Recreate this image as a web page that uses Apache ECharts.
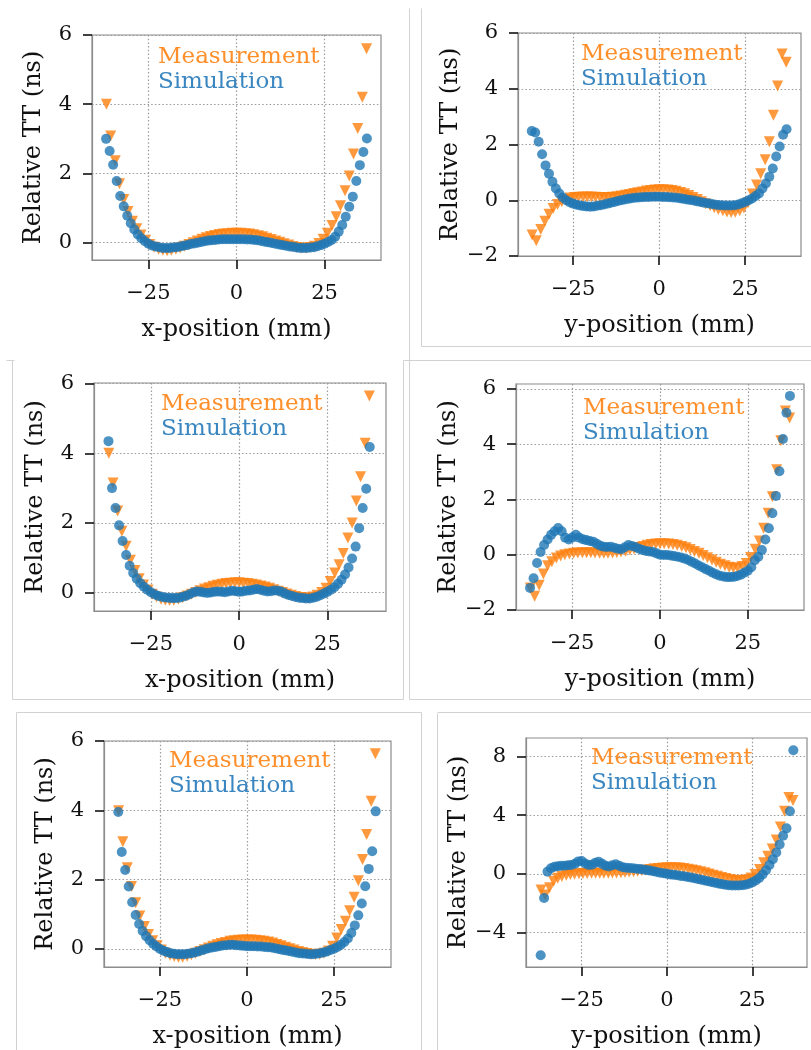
<!DOCTYPE html>
<html>
<head>
<meta charset="utf-8">
<script src="https://cdn.jsdelivr.net/npm/echarts@6/dist/echarts.min.js"></script>
<style>html,body{margin:0;padding:0;background:#fff}#c{width:811px;height:1050px}</style>
</head>
<body>
<div id="c"></div>
<script>
// ---- positions (mm) ----
const POS_MEAS = [-36.9,-35.7,-34.4,-33.2,-32.0,-30.8,-29.5,-28.3,-27.1,-25.8,-24.6,-23.4,-22.1,-20.9,-19.7,-18.5,-17.2,-16.0,-14.8,-13.5,-12.3,-11.1,-9.8,-8.6,-7.4,-6.2,-4.9,-3.7,-2.5,-1.2,0,1.2,2.5,3.7,4.9,6.2,7.4,8.6,9.8,11.1,12.3,13.5,14.8,16.0,17.2,18.5,19.7,20.9,22.1,23.4,24.6,25.8,27.1,28.3,29.5,30.8,32.0,33.2,34.4,35.7,36.9];
const POS_SIM = [-37,-36,-35,-34,-33,-32,-31,-30,-29,-28,-27,-26,-25,-24,-23,-22,-21,-20,-19,-18,-17,-16,-15,-14,-13,-12,-11,-10,-9,-8,-7,-6,-5,-4,-3,-2,-1,0,1,2,3,4,5,6,7,8,9,10,11,12,13,14,15,16,17,18,19,20,21,22,23,24,25,26,27,28,29,30,31,32,33,34,35,36,37];

// ---- Relative TT (ns) ----
const MEAS_1 = [4.0,3.08,2.37,1.7,1.25,0.9,0.62,0.4,0.22,0.07,-0.05,-0.13,-0.19,-0.22,-0.23,-0.22,-0.19,-0.15,-0.1,-0.05,0.0,0.05,0.1,0.14,0.18,0.21,0.24,0.25,0.26,0.27,
  0.27,
  0.27,0.26,0.25,0.23,0.2,0.17,0.13,0.09,0.05,0.01,-0.03,-0.07,-0.11,-0.14,-0.16,-0.16,-0.14,-0.1,-0.02,0.1,0.27,0.5,0.75,1.07,1.5,1.93,2.56,3.3,4.2,5.6];
const SIM_1 = [3.0,2.65,2.25,1.78,1.35,1.05,0.78,0.56,0.38,0.24,0.13,0.04,-0.03,-0.08,-0.11,-0.13,-0.15,-0.15,-0.15,-0.14,-0.13,-0.11,-0.09,-0.07,-0.04,-0.02,0.0,0.02,0.04,0.06,0.07,0.08,0.09,0.1,0.1,0.1,0.1,
  0.1,
  0.1,0.1,0.09,0.09,0.08,0.07,0.05,0.03,0.01,-0.01,-0.03,-0.05,-0.07,-0.09,-0.11,-0.12,-0.14,-0.15,-0.15,-0.15,-0.14,-0.13,-0.1,-0.07,-0.03,0.02,0.08,0.17,0.32,0.51,0.75,1.04,1.33,1.78,2.24,2.62,3.01];

const MEAS_2 = [-1.25,-1.45,-1.05,-0.75,-0.5,-0.3,-0.15,-0.05,0.03,0.08,0.1,0.11,0.12,0.12,0.12,0.11,0.1,0.1,0.1,0.11,0.13,0.15,0.18,0.21,0.24,0.27,0.3,0.33,0.35,0.37,
  0.38,
  0.38,0.37,0.35,0.32,0.28,0.23,0.17,0.1,0.03,-0.05,-0.13,-0.2,-0.27,-0.33,-0.38,-0.42,-0.44,-0.43,-0.38,-0.28,-0.1,0.22,0.55,0.95,1.45,2.1,3.05,4.1,5.25,4.95];
const SIM_2 = [2.48,2.43,2.1,1.65,1.25,0.95,0.66,0.42,0.24,0.1,0.0,-0.07,-0.12,-0.16,-0.19,-0.21,-0.22,-0.23,-0.22,-0.2,-0.18,-0.15,-0.12,-0.09,-0.06,-0.03,0.0,0.03,0.05,0.07,0.09,0.1,0.11,0.12,0.12,0.13,0.13,
  0.13,
  0.12,0.12,0.11,0.1,0.09,0.07,0.05,0.03,0.01,-0.01,-0.04,-0.06,-0.09,-0.11,-0.13,-0.15,-0.17,-0.18,-0.19,-0.19,-0.19,-0.18,-0.15,-0.11,-0.06,0.0,0.06,0.15,0.24,0.42,0.6,0.84,1.14,1.57,1.93,2.35,2.55];

const MEAS_3 = [4.0,3.15,2.34,1.76,1.33,0.93,0.63,0.4,0.22,0.07,-0.05,-0.13,-0.19,-0.22,-0.23,-0.22,-0.19,-0.15,-0.1,-0.05,0.0,0.05,0.1,0.14,0.18,0.21,0.24,0.26,0.27,0.28,
  0.28,
  0.27,0.26,0.24,0.22,0.19,0.16,0.12,0.08,0.04,0.0,-0.04,-0.08,-0.11,-0.14,-0.16,-0.16,-0.13,-0.08,0.0,0.12,0.32,0.56,0.8,1.12,1.57,2.0,2.63,3.33,4.29,5.65];
const SIM_3 = [4.35,3.0,2.43,1.93,1.48,1.08,0.77,0.56,0.4,0.27,0.17,0.08,0.01,-0.05,-0.09,-0.12,-0.14,-0.15,-0.16,-0.16,-0.15,-0.12,-0.09,-0.05,0.0,0.03,0.02,0.0,-0.01,0.0,0.02,0.03,0.02,0.01,0.03,0.05,0.04,
  0.02,
  0.03,0.05,0.06,0.08,0.1,0.08,0.05,0.03,0.04,0.06,0.05,0.02,-0.03,-0.07,-0.1,-0.13,-0.15,-0.16,-0.17,-0.17,-0.15,-0.12,-0.08,-0.03,0.02,0.08,0.15,0.25,0.37,0.52,0.72,0.98,1.32,1.85,2.43,2.98,4.18];

const MEAS_4 = [-1.2,-1.5,-1.1,-0.7,-0.4,-0.25,-0.12,-0.05,0.0,0.03,0.05,0.06,0.07,0.07,0.07,0.06,0.05,0.05,0.05,0.06,0.08,0.1,0.13,0.17,0.21,0.26,0.3,0.34,0.37,0.39,
  0.4,
  0.4,0.39,0.37,0.34,0.3,0.25,0.19,0.12,0.05,-0.03,-0.11,-0.19,-0.27,-0.34,-0.4,-0.45,-0.48,-0.48,-0.43,-0.32,-0.1,0.2,0.5,0.96,1.5,2.1,3.08,4.13,5.2,4.95];
const SIM_4 = [-1.2,-0.85,-0.3,0.1,0.35,0.55,0.72,0.85,0.97,0.85,0.62,0.55,0.62,0.72,0.62,0.56,0.53,0.5,0.47,0.4,0.33,0.29,0.28,0.29,0.25,0.22,0.2,0.27,0.35,0.32,0.28,0.22,0.17,0.14,0.12,0.1,0.05,
  0.0,
  -0.01,-0.01,-0.03,-0.05,-0.07,-0.1,-0.14,-0.19,-0.25,-0.32,-0.39,-0.45,-0.52,-0.58,-0.65,-0.71,-0.76,-0.79,-0.81,-0.81,-0.8,-0.77,-0.72,-0.65,-0.58,-0.45,-0.2,-0.07,0.17,0.55,0.96,1.5,2.13,3.02,4.19,5.14,5.75];

const MEAS_5 = [3.99,3.09,2.34,1.8,1.33,0.95,0.65,0.42,0.24,0.09,-0.03,-0.12,-0.18,-0.22,-0.24,-0.24,-0.21,-0.17,-0.12,-0.07,-0.02,0.03,0.08,0.12,0.16,0.19,0.22,0.24,0.25,0.26,
  0.26,
  0.26,0.25,0.24,0.22,0.2,0.17,0.13,0.09,0.05,0.01,-0.03,-0.07,-0.1,-0.13,-0.15,-0.16,-0.15,-0.12,-0.06,0.08,0.32,0.56,0.8,1.1,1.49,1.97,2.58,3.3,4.26,5.63];
const SIM_5 = [3.95,2.8,2.28,1.8,1.35,0.98,0.72,0.52,0.37,0.25,0.15,0.07,0.0,-0.05,-0.09,-0.12,-0.14,-0.15,-0.15,-0.15,-0.14,-0.12,-0.1,-0.07,-0.04,-0.01,0.02,0.04,0.06,0.08,0.1,0.11,0.12,0.12,0.11,0.1,0.09,
  0.08,
  0.08,0.08,0.07,0.07,0.06,0.05,0.04,0.02,0.0,-0.02,-0.04,-0.06,-0.08,-0.1,-0.12,-0.13,-0.14,-0.15,-0.15,-0.14,-0.12,-0.1,-0.07,-0.03,0.01,0.06,0.12,0.2,0.3,0.46,0.68,0.97,1.31,1.81,2.31,2.82,3.97];

const MEAS_6 = [-1.1,-1.45,-0.95,-0.5,-0.3,-0.18,-0.1,-0.05,-0.02,0.0,0.02,0.03,0.04,0.04,0.04,0.04,0.04,0.05,0.06,0.08,0.1,0.12,0.15,0.18,0.22,0.26,0.3,0.34,0.37,0.39,
  0.41,
  0.42,0.41,0.39,0.36,0.32,0.27,0.21,0.14,0.07,-0.01,-0.09,-0.17,-0.25,-0.32,-0.38,-0.43,-0.46,-0.46,-0.4,-0.28,-0.05,0.3,0.75,1.2,1.7,2.3,3.2,4.27,5.2,5.0];
const SIM_6 = [-5.55,-1.65,0.15,0.38,0.48,0.52,0.55,0.55,0.58,0.6,0.68,0.85,0.88,0.7,0.6,0.62,0.75,0.82,0.68,0.55,0.5,0.58,0.65,0.55,0.45,0.42,0.4,0.38,0.35,0.33,0.3,0.27,0.22,0.18,0.13,0.08,0.04,
  0.0,
  -0.04,-0.07,-0.1,-0.14,-0.17,-0.21,-0.25,-0.3,-0.35,-0.4,-0.45,-0.5,-0.55,-0.6,-0.65,-0.7,-0.74,-0.77,-0.79,-0.8,-0.8,-0.78,-0.74,-0.68,-0.58,-0.45,-0.28,-0.05,0.25,0.6,1.0,1.45,2.0,2.6,3.1,4.27,8.43];

// ---- ticks & labels ----
const X_TICKS = [-25, 0, 25];
const Y_TICKS_A = [0, 2, 4, 6];
const Y_TICKS_B = [-2, 0, 2, 4, 6];
const Y_TICKS_C = [-4, 0, 4, 8];
const X_TITLES = ['x-position (mm)', 'y-position (mm)', 'x-position (mm)', 'y-position (mm)', 'x-position (mm)', 'y-position (mm)'];
const Y_TITLE = 'Relative TT (ns)';
const SERIES_NAMES = ['Measurement', 'Simulation'];

// ---- layout ----
const panels = [
  {g:{left:92, top:35, width:289, height:225}, xr:[-41,41],   yr:[-0.5,6],    yt:Y_TICKS_A, m:MEAS_1, s:SIM_1, lg:[66,22]},
  {g:{left:518,top:33, width:283, height:223}, xr:[-41,41.2], yr:[-2,6],      yt:Y_TICKS_B, m:MEAS_2, s:SIM_2, lg:[63,21]},
  {g:{left:94, top:383,width:292, height:228}, xr:[-41.1,41.6], yr:[-0.53,6.02], yt:Y_TICKS_A, m:MEAS_3, s:SIM_3, lg:[67,21]},
  {g:{left:516,top:384,width:288, height:226}, xr:[-41,41],   yr:[-2,6.18],   yt:Y_TICKS_B, m:MEAS_4, s:SIM_4, lg:[67,24]},
  {g:{left:104,top:741,width:287, height:226}, xr:[-41.1,41.4], yr:[-0.52,6],  yt:Y_TICKS_A, m:MEAS_5, s:SIM_5, lg:[65,20]},
  {g:{left:526,top:738,width:281, height:229}, xr:[-41.3,41], yr:[-6.35,9.26], yt:Y_TICKS_C, m:MEAS_6, s:SIM_6, lg:[65,20]}
];

const FONT = 'DejaVu Serif';
const FRAME = '#8c8c8c';
const fmt = v => (v < 0 ? '\u2212' + Math.abs(v) : String(v));
const gridLine = {show:true, lineStyle:{color:'#9a9a9a', width:1.2, type:[1.5,2.2]}};

const option = {
  backgroundColor:'#fff',
  animation:false,
  grid:[], xAxis:[], yAxis:[], series:[], legend:[],
  graphic:[]
};

panels.forEach((p, i) => {
  option.grid.push(Object.assign({show:true, borderColor:FRAME, borderWidth:1.2, backgroundColor:'transparent', containLabel:false}, p.g));
  option.xAxis.push({
    type:'value', gridIndex:i, min:p.xr[0], max:p.xr[1], position:'bottom',
    name:X_TITLES[i], nameLocation:'middle', nameGap:58,
    nameTextStyle:{fontFamily:FONT, fontSize:24, color:'#111'},
    axisLine:{show:true, onZero:false, lineStyle:{color:FRAME, width:1.2}},
    axisTick:{show:true, inside:false, length:9, lineStyle:{color:'#111', width:1.6}, customValues:X_TICKS},
    axisLabel:{customValues:X_TICKS, formatter:fmt, margin:23, fontFamily:FONT, fontSize:21, color:'#111'},
    splitLine:gridLine
  });
  option.yAxis.push({
    type:'value', gridIndex:i, min:p.yr[0], max:p.yr[1], position:'left',
    name:Y_TITLE, nameLocation:'middle', nameGap:46,
    nameTextStyle:{fontFamily:FONT, fontSize:24, color:'#111'},
    axisLine:{show:true, onZero:false, lineStyle:{color:FRAME, width:1.2}},
    axisTick:{show:true, inside:false, length:9, lineStyle:{color:'#111', width:1.6}, customValues:p.yt},
    axisLabel:{customValues:p.yt, formatter:fmt, margin:20, fontFamily:FONT, fontSize:21, color:'#111'},
    splitLine:gridLine
  });
  option.series.push({
    type:'scatter', name:SERIES_NAMES[0], xAxisIndex:i, yAxisIndex:i,
    symbol:'triangle', symbolRotate:180, symbolSize:11, z:2,
    itemStyle:{color:'#ff7f0e'},
    data:POS_MEAS.map((x, k) => [x, p.m[k]])
  });
  option.series.push({
    type:'scatter', name:SERIES_NAMES[1], xAxisIndex:i, yAxisIndex:i,
    symbol:'circle', symbolSize:10, z:3,
    itemStyle:{color:'#1f77b4', opacity:0.8},
    data:POS_SIM.map((x, k) => [x, p.s[k]])
  });
  option.legend.push({
    left:p.g.left + p.lg[0] - 5, top:p.g.top + p.lg[1] - 12,
    orient:'vertical', icon:'none', itemWidth:0, itemHeight:14, itemGap:1, padding:0,
    selectedMode:false,
    textStyle:{fontFamily:FONT, fontSize:23, lineHeight:24},
    data:[{name:SERIES_NAMES[0], textStyle:{color:'#ff8f2a'}}, {name:SERIES_NAMES[1], textStyle:{color:'#3a86c0'}}]
  });
});

// screenshot frame borders
const B = '#d2d2d2';
const segs = [
  [409,8,409,699],[421,8,421,346],[421,346,811,346],
  [6,360,14,360],[403,360,811,360],[12,360,12,699],[12,699,403,699],[403,360,403,699],[409,699,811,699],
  [16,712,421,712],[16,712,16,1050],[421,712,421,1050],
  [437,713,437,1050],[437,712,811,712]
];
segs.forEach(s => option.graphic.push({type:'line', silent:true, z:-1, shape:{x1:s[0]+0.5,y1:s[1]+0.5,x2:s[2]+0.5,y2:s[3]+0.5}, style:{stroke:B, lineWidth:1}}));

const chart = echarts.init(document.getElementById('c'), null, {renderer:'canvas'});
chart.setOption(option);
</script>
</body>
</html>
